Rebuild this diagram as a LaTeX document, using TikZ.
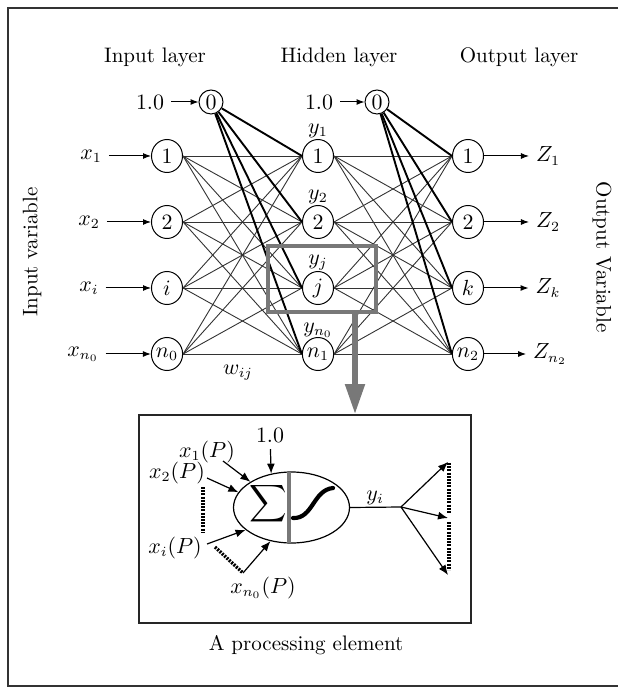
\documentclass[tikz,border=0pt]{standalone}
\usetikzlibrary{arrows.meta,shapes.geometric}
\definecolor{pgray}{gray}{0.47}
\begin{document}
\begin{tikzpicture}[x=0.5pt,y=-0.5pt,
  font=\fontsize{10.5}{12}\selectfont,
  neuron/.style={draw, ellipse, minimum width=15.5pt, minimum height=16.5pt, inner sep=0pt, line width=0.5pt},
  biasnode/.style={draw, circle, minimum size=12pt, inner sep=0pt, line width=0.5pt},
  conn/.style={line width=0.45pt, black!80},
  bconn/.style={line width=0.95pt, black},
  inarrow/.style={line width=0.5pt, -{Latex[length=4pt,width=3pt]}},
  pearrow/.style={line width=0.6pt, -{Latex[length=5pt,width=4pt]}},
  dotline/.style={line width=1.7pt, dash pattern=on 1pt off 0.6pt}
]
\useasboundingbox (0,0) rectangle (618,688);
\draw[line width=0.75pt, black!80] (618,8) -- (8,8) -- (8,686) -- (618,686);

% titles
\node (tin) at (155,57) {Input layer};
\node (thid) at (339,57) {Hidden layer};
\node (tout) at (519,57) {Output layer};
\node[rotate=90] (vin) at (32,252) {Input variable};
\node[rotate=-90] (vout) at (602,257) {Output Variable};

% bias nodes
\node[biasnode] (b0) at (211,102) {$0$};
\node[biasnode] (c0) at (377,102) {$0$};
\node (lb0) at (150,102) {$1.0$};
\node (lc0) at (319,102) {$1.0$};
\draw[inarrow] (lb0) -- (b0);
\draw[inarrow] (lc0) -- (c0);

% input layer
\node[neuron] (i1) at (167,156) {$1$};
\node[neuron] (i2) at (167,222) {$2$};
\node[neuron] (ii) at (167,288) {$i$};
\node[neuron] (in) at (167,354) {$n_0$};
% hidden layer
\node[neuron] (h1) at (318,156) {$1$};
\node[neuron] (h2) at (318,222) {$2$};
\node[neuron] (hj) at (318,288) {$j$};
\node[neuron] (hn) at (318,354) {$n_1$};
% output layer
\node[neuron] (o1) at (468,156) {$1$};
\node[neuron] (o2) at (468,222) {$2$};
\node[neuron] (ok) at (468,288) {$k$};
\node[neuron] (on) at (468,354) {$n_2$};

% input labels
\node (lx1) at (91,156) {$x_1$};
\node (lx2) at (89,222) {$x_2$};
\node (lxi) at (89,288) {$x_i$};
\node (lxn) at (83,354) {$x_{n_0}$};
\draw[inarrow] (lx1) -- (i1);
\draw[inarrow] (lx2) -- (i2);
\draw[inarrow] (lxi) -- (ii);
\draw[inarrow] (lxn) -- (in);

% output labels
\node (z1) at (548,156) {$Z_1$};
\node (z2) at (548,222) {$Z_2$};
\node (zk) at (548,288) {$Z_k$};
\node (zn) at (550,354) {$Z_{n_2}$};
\draw[inarrow] (o1) -- (z1);
\draw[inarrow] (o2) -- (z2);
\draw[inarrow] (ok) -- (zk);
\draw[inarrow] (on) -- (zn);

% hidden labels
\node (ly1) at (318,131) {$y_1$};
\node (ly2) at (318,197) {$y_2$};
\node (lyj) at (318,263) {$y_j$};
\node (lyn) at (318,330) {$y_{n_0}$};
\node (lw) at (238,373) {$w_{ij}$};

% connections
\foreach \a in {i1,i2,ii,in}
  \foreach \b in {h1,h2,hj,hn}
    \draw[conn] (\a.east) -- (\b.west);
\foreach \b in {h1,h2,hj,hn}
  \draw[bconn] (b0) -- (\b.west);
\foreach \a in {h1,h2,hj,hn}
  \foreach \b in {o1,o2,ok,on}
    \draw[conn] (\a.east) -- (\b.west);
\foreach \b in {o1,o2,ok,on}
  \draw[bconn] (c0) -- (\b.west);

% highlight rectangle and arrow
\node[draw=pgray, line width=2pt, minimum width=54pt, minimum height=33pt, inner sep=0pt] (grect) at (322,279) {};
\coordinate (ga) at (355,312);
\coordinate (gb) at (355,414);
\draw[pgray, line width=2.6pt, -{Triangle[length=15pt,width=9.5pt]}] (ga) -- (gb);

% processing element box
\node[draw, line width=1pt, black!85, minimum width=166pt, minimum height=104pt, inner sep=0pt] (pbox) at (305,519) {};
\node (cap) at (306,645) {A processing element};

% processing element
\node[draw, ellipse, minimum width=58pt, minimum height=35.5pt, line width=0.6pt] (pe) at (291.5,507.5) {};
\coordinate (bt) at (289,472);
\coordinate (bb) at (289,543);
\draw[pgray, line width=2pt] (bt) -- (bb);
\node[scale=1.3] (sig) at (268,504) {$\displaystyle\sum$};
\coordinate (s1) at (293,518);
\coordinate (s2) at (333,488);
\draw[line width=2.1pt, line cap=round] (s1) .. controls (313,519) and (313,490) .. (s2);

\node (l10) at (270,435) {$1.0$};
\draw[pearrow] (l10) -- (pe.121);
\node (px1) at (207,452) {$x_1(P)$};
\coordinate (sx1) at (223,461);
\draw[pearrow] (sx1) -- (pe.148);
\node (px2) at (177,473) {$x_2(P)$};
\coordinate (sx2) at (207,478);
\draw[pearrow] (sx2) -- (pe.164);
\coordinate (d1) at (203,487);
\coordinate (d2) at (203,532);
\draw[dotline] (d1) -- (d2);
\node (pxi) at (175,548) {$x_i(P)$};
\coordinate (sxi) at (207,544);
\draw[pearrow] (sxi) -- (pe.206);
\coordinate (d3) at (215,547);
\coordinate (sxn) at (243,573);
\draw[dotline] (d3) -- (sxn);
\draw[pearrow] (sxn) -- (pe.238);
\node (pxn) at (263,588) {$x_{n_0}(P)$};

% output of processing element
\coordinate (fork) at (401,507);
\draw[line width=0.6pt] (pe.east) -- (fork);
\node (lyi) at (375,498) {$y_i$};
\coordinate (e1) at (448,462);
\coordinate (e2) at (448,518);
\coordinate (e3) at (448,575);
\draw[pearrow] (fork) -- (e1);
\draw[pearrow] (fork) -- (e2);
\draw[pearrow] (fork) -- (e3);
\coordinate (d4) at (449,463);
\coordinate (d5) at (449,513);
\coordinate (d6) at (449,522);
\coordinate (d7) at (449,570);
\draw[dotline] (d4) -- (d5);
\draw[dotline] (d6) -- (d7);
\end{tikzpicture}
\end{document}
